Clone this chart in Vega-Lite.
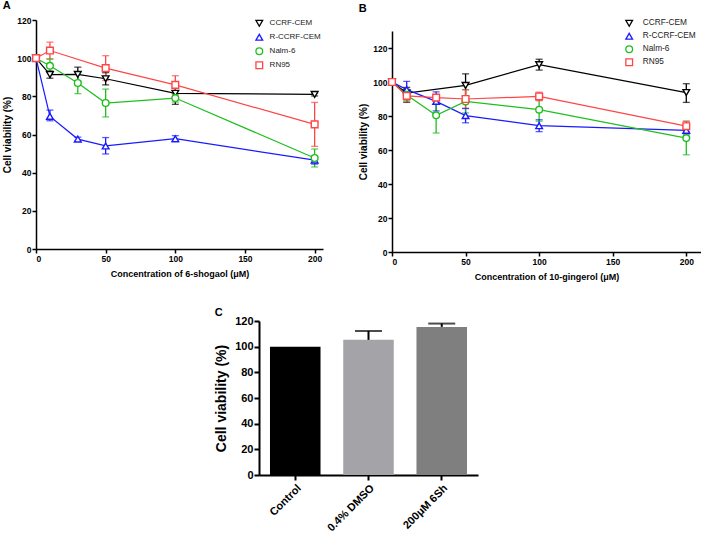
{
  "$schema": "https://vega.github.io/schema/vega-lite/v6.json",
  "padding": {"left": 2, "top": 0, "right": 0, "bottom": 0},
  "background": "white",
  "config": {
    "font": "Liberation Sans",
    "view": {"stroke": null},
    "axis": {"domainColor": "#000", "domainWidth": 1.5, "tickColor": "#000", "tickWidth": 1.5, "tickSize": 4, "labelColor": "#000", "labelFontWeight": "bold", "labelFontSize": 8.5, "labelPadding": 1, "titleColor": "#000", "titleFontWeight": "bold", "titleFontSize": 9.5, "grid": false, "labelOverlap": false},
    "title": {"fontSize": 11, "fontWeight": "bold", "anchor": "start", "frame": "bounds", "color": "#000", "offset": 5},
    "legend": {"labelColor": "#222", "labelFontWeight": "normal"}
  },
  "datasets": {
    "a": [
      {"series": "CCRF-CEM", "conc": 0, "v": 100},
      {"series": "CCRF-CEM", "conc": 10, "v": 91.4, "lo": 89.5, "hi": 93.3},
      {"series": "CCRF-CEM", "conc": 30, "v": 91.5, "lo": 88, "hi": 95.3},
      {"series": "CCRF-CEM", "conc": 50, "v": 89.2, "lo": 86, "hi": 92.4},
      {"series": "CCRF-CEM", "conc": 100, "v": 81.6, "lo": 75.8, "hi": 87.4},
      {"series": "CCRF-CEM", "conc": 200, "v": 81, "lo": 80.2, "hi": 81.8},
      {"series": "R-CCRF-CEM", "conc": 0, "v": 100},
      {"series": "R-CCRF-CEM", "conc": 10, "v": 69.5, "lo": 67.2, "hi": 72.8},
      {"series": "R-CCRF-CEM", "conc": 30, "v": 57.6, "lo": 56.6, "hi": 58.6},
      {"series": "R-CCRF-CEM", "conc": 50, "v": 54, "lo": 49.8, "hi": 58.4},
      {"series": "R-CCRF-CEM", "conc": 100, "v": 57.8, "lo": 56.2, "hi": 59.4},
      {"series": "R-CCRF-CEM", "conc": 200, "v": 46.6, "lo": 44.5, "hi": 48.7},
      {"series": "Nalm-6", "conc": 0, "v": 100},
      {"series": "Nalm-6", "conc": 10, "v": 96, "lo": 92.5, "hi": 99.5},
      {"series": "Nalm-6", "conc": 30, "v": 87, "lo": 81.4, "hi": 92.6},
      {"series": "Nalm-6", "conc": 50, "v": 76.5, "lo": 69.2, "hi": 83.8},
      {"series": "Nalm-6", "conc": 100, "v": 79.1, "lo": 77, "hi": 81.2},
      {"series": "Nalm-6", "conc": 200, "v": 47.7, "lo": 43, "hi": 52.4},
      {"series": "RN95", "conc": 0, "v": 100},
      {"series": "RN95", "conc": 10, "v": 104, "lo": 99.6, "hi": 108.4},
      {"series": "RN95", "conc": 50, "v": 94.8, "lo": 88.3, "hi": 101.3},
      {"series": "RN95", "conc": 100, "v": 86, "lo": 81.2, "hi": 90.8},
      {"series": "RN95", "conc": 200, "v": 65.3, "lo": 53.8, "hi": 76.8}
    ],
    "b": [
      {"series": "CCRF-CEM", "conc": 0, "v": 100},
      {"series": "CCRF-CEM", "conc": 10, "v": 93.5, "lo": 88, "hi": 96.8},
      {"series": "CCRF-CEM", "conc": 50, "v": 98, "lo": 91.4, "hi": 104.8},
      {"series": "CCRF-CEM", "conc": 100, "v": 110.2, "lo": 107, "hi": 113.4},
      {"series": "CCRF-CEM", "conc": 200, "v": 93.8, "lo": 88, "hi": 99},
      {"series": "R-CCRF-CEM", "conc": 0, "v": 100},
      {"series": "R-CCRF-CEM", "conc": 10, "v": 95.5, "lo": 90.6, "hi": 100.4},
      {"series": "R-CCRF-CEM", "conc": 30, "v": 88.6, "lo": 83, "hi": 94.2},
      {"series": "R-CCRF-CEM", "conc": 50, "v": 80.2, "lo": 76, "hi": 84.4},
      {"series": "R-CCRF-CEM", "conc": 100, "v": 74.3, "lo": 70.8, "hi": 77.8},
      {"series": "R-CCRF-CEM", "conc": 200, "v": 71.6, "lo": 69.4, "hi": 73.8},
      {"series": "Nalm-6", "conc": 0, "v": 100},
      {"series": "Nalm-6", "conc": 10, "v": 92.4, "lo": 89, "hi": 95.8},
      {"series": "Nalm-6", "conc": 30, "v": 80.4, "lo": 70, "hi": 90.8},
      {"series": "Nalm-6", "conc": 50, "v": 88.6, "lo": 81.8, "hi": 95.4},
      {"series": "Nalm-6", "conc": 100, "v": 83.7, "lo": 76.9, "hi": 90.5},
      {"series": "Nalm-6", "conc": 200, "v": 67, "lo": 57.2, "hi": 76.8},
      {"series": "RN95", "conc": 0, "v": 100},
      {"series": "RN95", "conc": 10, "v": 91.8, "lo": 88.3, "hi": 95.3},
      {"series": "RN95", "conc": 30, "v": 90.8},
      {"series": "RN95", "conc": 50, "v": 90, "lo": 84.5, "hi": 95.5},
      {"series": "RN95", "conc": 100, "v": 91.5, "lo": 89, "hi": 94},
      {"series": "RN95", "conc": 200, "v": 74, "lo": 71, "hi": 77}
    ],
    "c": [
      {"cond": "Control", "v": 100},
      {"cond": "0.4% DMSO", "v": 105.3, "hi": 112.2},
      {"cond": "200μM 6Sh", "v": 115.4, "hi": 118}
    ]
  },
  "resolve": {"scale": {"color": "independent"}, "legend": {"color": "independent", "shape": "independent"}},
  "spacing": 25,
  "center": true,
  "vconcat": [
    {
      "spacing": 35,
      "resolve": {"legend": {"color": "independent", "shape": "independent"}},
      "hconcat": [
        {
          "width": 287,
          "height": 229,
          "title": {"text": "A"},
          "data": {"name": "a"},
          "encoding": {
            "x": {"field": "conc", "type": "quantitative", "scale": {"domain": [0, 206], "nice": false, "zero": false}, "axis": {"values": [0, 50, 100, 150, 200], "title": "Concentration of 6-shogaol (μM)", "titleFontSize": 9, "titlePadding": 7}}
          },
          "layer": [
            {"transform": [{"filter": "isValid(datum.lo)"}], "mark": {"type": "rule", "strokeWidth": 1.3},
              "encoding": {"y": {"field": "lo", "type": "quantitative", "scale": {"domain": [0, 120], "nice": false}, "axis": {"values": [0, 20, 40, 60, 80, 100, 120], "title": "Cell viability (%)", "titleFontSize": 10, "titlePadding": 4}}, "y2": {"field": "hi"},
                "color": {"field": "series", "type": "nominal", "scale": {"domain": ["CCRF-CEM", "R-CCRF-CEM", "Nalm-6", "RN95"], "range": ["#000000", "#1a1aff", "#1fbf1f", "#ff4545"]},
                  "legend": {"orient": "none", "legendX": 218.8, "legendY": -1.2, "title": null, "symbolSize": 45, "symbolStrokeWidth": 1.3, "symbolFillColor": "white", "labelFontSize": 8, "labelOffset": 5.8, "rowPadding": 1, "padding": 0}}}},
            {"transform": [{"filter": "isValid(datum.lo)"}], "mark": {"type": "tick", "orient": "horizontal", "size": 7, "thickness": 1.3},
              "encoding": {"y": {"field": "lo", "type": "quantitative", "axis": {"values": [0, 20, 40, 60, 80, 100, 120], "title": "Cell viability (%)", "titleFontSize": 10, "titlePadding": 4}},
                "fill": {"field": "series", "type": "nominal", "sort": ["CCRF-CEM", "R-CCRF-CEM", "Nalm-6", "RN95"], "scale": {"range": ["#000000", "#1a1aff", "#1fbf1f", "#ff4545"]}, "legend": null}}},
            {"transform": [{"filter": "isValid(datum.lo)"}], "mark": {"type": "tick", "orient": "horizontal", "size": 7, "thickness": 1.3},
              "encoding": {"y": {"field": "hi", "type": "quantitative", "axis": {"values": [0, 20, 40, 60, 80, 100, 120], "title": "Cell viability (%)", "titleFontSize": 10, "titlePadding": 4}},
                "fill": {"field": "series", "type": "nominal", "sort": ["CCRF-CEM", "R-CCRF-CEM", "Nalm-6", "RN95"], "scale": {"range": ["#000000", "#1a1aff", "#1fbf1f", "#ff4545"]}, "legend": null}}},
            {"mark": {"type": "line", "strokeWidth": 1.2},
              "encoding": {"y": {"field": "v", "type": "quantitative", "axis": {"values": [0, 20, 40, 60, 80, 100, 120], "title": "Cell viability (%)", "titleFontSize": 10, "titlePadding": 4}},
                "color": {"field": "series", "type": "nominal"}}},
            {"mark": {"type": "point", "filled": false, "fill": "white", "size": 45, "strokeWidth": 1.4, "opacity": 1},
              "encoding": {"y": {"field": "v", "type": "quantitative", "axis": {"values": [0, 20, 40, 60, 80, 100, 120], "title": "Cell viability (%)", "titleFontSize": 10, "titlePadding": 4}},
                "color": {"field": "series", "type": "nominal"},
                "shape": {"field": "series", "type": "nominal", "scale": {"domain": ["CCRF-CEM", "R-CCRF-CEM", "Nalm-6", "RN95"], "range": ["triangle-down", "triangle-up", "circle", "square"]},
                  "legend": {"orient": "none", "legendX": 218.8, "legendY": -1.2, "title": null, "symbolSize": 45, "symbolStrokeWidth": 1.3, "symbolFillColor": "white", "labelFontSize": 8, "labelOffset": 5.8, "rowPadding": 1, "padding": 0}}}}
          ]
        },
        {
          "width": 309,
          "height": 232,
          "title": {"text": "B"},
          "data": {"name": "b"},
          "encoding": {
            "x": {"field": "conc", "type": "quantitative", "scale": {"domain": [0, 210], "nice": false, "zero": false}, "axis": {"values": [0, 50, 100, 150, 200], "title": "Concentration of 10-gingerol (μM)", "titleFontSize": 9, "titlePadding": 7}}
          },
          "layer": [
            {"transform": [{"filter": "isValid(datum.lo)"}], "mark": {"type": "rule", "strokeWidth": 1.3},
              "encoding": {"y": {"field": "lo", "type": "quantitative", "scale": {"domain": [0, 130], "range": [232, 11], "nice": false}, "axis": {"values": [0, 20, 40, 60, 80, 100, 120], "title": "Cell viability (%)", "titleFontSize": 10, "titlePadding": 4}}, "y2": {"field": "hi"},
                "color": {"field": "series", "type": "nominal", "scale": {"domain": ["CCRF-CEM", "R-CCRF-CEM", "Nalm-6", "RN95"], "range": ["#000000", "#1a1aff", "#1fbf1f", "#ff4545"]},
                  "legend": {"orient": "none", "legendX": 232.7, "legendY": -1.2, "title": null, "symbolSize": 45, "symbolStrokeWidth": 1.3, "symbolFillColor": "white", "labelFontSize": 8.3, "labelOffset": 9, "rowPadding": 0, "padding": 0}}}},
            {"transform": [{"filter": "isValid(datum.lo)"}], "mark": {"type": "tick", "orient": "horizontal", "size": 7, "thickness": 1.3},
              "encoding": {"y": {"field": "lo", "type": "quantitative", "axis": {"values": [0, 20, 40, 60, 80, 100, 120], "title": "Cell viability (%)", "titleFontSize": 10, "titlePadding": 4}},
                "fill": {"field": "series", "type": "nominal", "sort": ["CCRF-CEM", "R-CCRF-CEM", "Nalm-6", "RN95"], "scale": {"range": ["#000000", "#1a1aff", "#1fbf1f", "#ff4545"]}, "legend": null}}},
            {"transform": [{"filter": "isValid(datum.lo)"}], "mark": {"type": "tick", "orient": "horizontal", "size": 7, "thickness": 1.3},
              "encoding": {"y": {"field": "hi", "type": "quantitative", "axis": {"values": [0, 20, 40, 60, 80, 100, 120], "title": "Cell viability (%)", "titleFontSize": 10, "titlePadding": 4}},
                "fill": {"field": "series", "type": "nominal", "sort": ["CCRF-CEM", "R-CCRF-CEM", "Nalm-6", "RN95"], "scale": {"range": ["#000000", "#1a1aff", "#1fbf1f", "#ff4545"]}, "legend": null}}},
            {"mark": {"type": "line", "strokeWidth": 1.2},
              "encoding": {"y": {"field": "v", "type": "quantitative", "axis": {"values": [0, 20, 40, 60, 80, 100, 120], "title": "Cell viability (%)", "titleFontSize": 10, "titlePadding": 4}},
                "color": {"field": "series", "type": "nominal"}}},
            {"mark": {"type": "point", "filled": false, "fill": "white", "size": 45, "strokeWidth": 1.4, "opacity": 1},
              "encoding": {"y": {"field": "v", "type": "quantitative", "axis": {"values": [0, 20, 40, 60, 80, 100, 120], "title": "Cell viability (%)", "titleFontSize": 10, "titlePadding": 4}},
                "color": {"field": "series", "type": "nominal"},
                "shape": {"field": "series", "type": "nominal", "scale": {"domain": ["CCRF-CEM", "R-CCRF-CEM", "Nalm-6", "RN95"], "range": ["triangle-down", "triangle-up", "circle", "square"]},
                  "legend": {"orient": "none", "legendX": 232.7, "legendY": -1.2, "title": null, "symbolSize": 45, "symbolStrokeWidth": 1.3, "symbolFillColor": "white", "labelFontSize": 8.3, "labelOffset": 9, "rowPadding": 0, "padding": 0}}}}
          ]
        }
      ]
    },
    {
      "width": 219,
      "height": 154,
      "title": {"text": "C", "offset": -3},
      "data": {"name": "c"},
      "encoding": {
        "x": {"field": "cond", "type": "nominal", "sort": ["Control", "0.4% DMSO", "200μM 6Sh"], "scale": {"paddingInner": 0.31, "paddingOuter": 0.15}, "axis": {"title": null, "labelAngle": -45, "labelFontSize": 11, "tickSize": 5, "domainWidth": 2, "tickWidth": 2, "labelPadding": 2}}
      },
      "layer": [
        {"mark": {"type": "bar"},
          "encoding": {
            "y": {"field": "v", "type": "quantitative", "scale": {"domain": [0, 120], "nice": false}, "axis": {"values": [0, 20, 40, 60, 80, 100, 120], "title": "Cell viability (%)", "titleFontSize": 14, "labelFontSize": 11, "tickSize": 5, "domainWidth": 2, "tickWidth": 2, "titlePadding": 6}},
            "color": {"field": "cond", "type": "nominal", "scale": {"domain": ["Control", "0.4% DMSO", "200μM 6Sh"], "range": ["#000000", "#a4a3a8", "#7f7f7f"]}, "legend": null}
          }},
        {"transform": [{"filter": "isValid(datum.hi)"}], "mark": {"type": "rule", "strokeWidth": 2, "color": "#000"},
          "encoding": {"y": {"field": "v", "type": "quantitative", "axis": {"values": [0, 20, 40, 60, 80, 100, 120], "title": "Cell viability (%)", "titleFontSize": 14, "labelFontSize": 11, "tickSize": 5, "domainWidth": 2, "tickWidth": 2, "titlePadding": 6}}, "y2": {"field": "hi"}}},
        {"transform": [{"filter": "isValid(datum.hi)"}], "mark": {"type": "tick", "orient": "horizontal", "size": 27, "thickness": 2, "color": "#000"},
          "encoding": {"y": {"field": "hi", "type": "quantitative", "axis": {"values": [0, 20, 40, 60, 80, 100, 120], "title": "Cell viability (%)", "titleFontSize": 14, "labelFontSize": 11, "tickSize": 5, "domainWidth": 2, "tickWidth": 2, "titlePadding": 6}}}}
      ]
    }
  ]
}
